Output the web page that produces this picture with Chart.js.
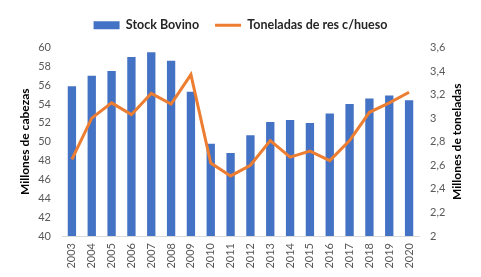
<!DOCTYPE html>
<html><head><meta charset="utf-8">
<script src="https://cdn.jsdelivr.net/npm/chart.js@4.4.0/dist/chart.umd.min.js"></script>
<style>html,body{margin:0;padding:0;background:#fff}#w{width:481px;height:277px}</style>
</head><body><div id="w"><canvas id="c"></canvas></div>
<script>
const categories = ['2003','2004','2005','2006','2007','2008','2009','2010','2011','2012','2013','2014','2015','2016','2017','2018','2019','2020'];
const stockBovino = [55.9,57.0,57.5,59.0,59.5,58.6,55.3,49.8,48.8,50.7,52.1,52.3,52.0,53.0,54.0,54.6,54.9,54.4];
const toneladas = [2.65,3.00,3.13,3.03,3.21,3.12,3.37,2.62,2.51,2.60,2.81,2.67,2.72,2.64,2.81,3.05,3.13,3.22];
const leftTicks = {min:40,max:60,step:2};
const rightTicks = {min:2,max:3.6,step:0.2};

const FONT = 'Lato, "Open Sans", sans-serif';
const rightTitle = {
  id:'rightTitle',
  afterDraw(chart){
    const ctx = chart.ctx, a = chart.chartArea;
    ctx.save();
    ctx.translate(457, (a.top+a.bottom)/2);
    ctx.rotate(-Math.PI/2);
    ctx.font = 'bold 12px '+FONT;
    ctx.fillStyle = '#000';
    ctx.textAlign='center'; ctx.textBaseline='middle';
    ctx.fillText('Millones de toneladas',0,0);
    ctx.restore();
  }
};
const legendGap = {
  id:'legendGap',
  afterInit(chart){
    const lg = chart.legend;
    if(lg && !lg._gapWrapped){
      const f = lg.fit;
      lg.fit = function(){ f.call(this); this.height += 6; };
      lg._gapWrapped = true;
    }
  }
};
new Chart(document.getElementById('c'),{
  data:{labels:categories,datasets:[
    {type:'line',label:'Toneladas de res c/hueso',data:toneladas,yAxisID:'y1',borderColor:'#ED7D31',backgroundColor:'#ED7D31',borderWidth:3,pointRadius:0,tension:0,order:0},
    {type:'bar',label:'Stock Bovino',data:stockBovino,yAxisID:'y',backgroundColor:'#4472C4',categoryPercentage:1,barPercentage:0.42,order:1}
  ]},
  options:{
    responsive:true,maintainAspectRatio:false,animation:false,
    layout:{padding:{top:3,bottom:0,left:0,right:0}},
    plugins:{
      tooltip:{enabled:false},
      legend:{position:'top',reverse:true,labels:{
        font:{family:FONT,size:12.5,weight:'bold'},color:'#262626',usePointStyle:true,pointStyleWidth:26,boxHeight:8,padding:16,
        generateLabels(chart){
          return chart.data.datasets.map((d,i)=>({
            text:d.label,datasetIndex:i,
            fillStyle:d.type==='bar'?'#4472C4':'#ED7D31',
            strokeStyle:d.type==='bar'?'#4472C4':'#ED7D31',
            lineWidth:d.type==='bar'?0:3,
            pointStyle:d.type==='bar'?'rect':'line',
            fontColor:'#262626',hidden:false
          }));
        }
      }}
    },
    scales:{
      x:{grid:{display:false,drawTicks:false},border:{display:true,color:'#d9d9d9',width:1},
        ticks:{font:{family:FONT,size:11},color:'#595959',maxRotation:90,minRotation:90,padding:7},
        afterFit(s){s.height=41;}},
      y:{position:'left',min:leftTicks.min,max:leftTicks.max,grid:{display:false,drawTicks:false},border:{display:false},
        ticks:{stepSize:leftTicks.step,font:{family:FONT,size:11},color:'#595959',padding:11},
        title:{display:true,text:'Millones de cabezas',font:{family:FONT,size:12,weight:'bold'},color:'#000',padding:{top:18,bottom:0}},
        afterFit(s){s.width=62;}},
      y1:{position:'right',min:rightTicks.min,max:rightTicks.max,grid:{display:false,drawTicks:false},border:{display:false},
        ticks:{stepSize:rightTicks.step,font:{family:FONT,size:11},color:'#595959',padding:11,
          callback:v=>(Math.round(v*10)/10).toString().replace('.',',')},
        afterFit(s){s.width=62;}}
    }
  },
  plugins:[legendGap,rightTitle]
});
</script></body></html>
